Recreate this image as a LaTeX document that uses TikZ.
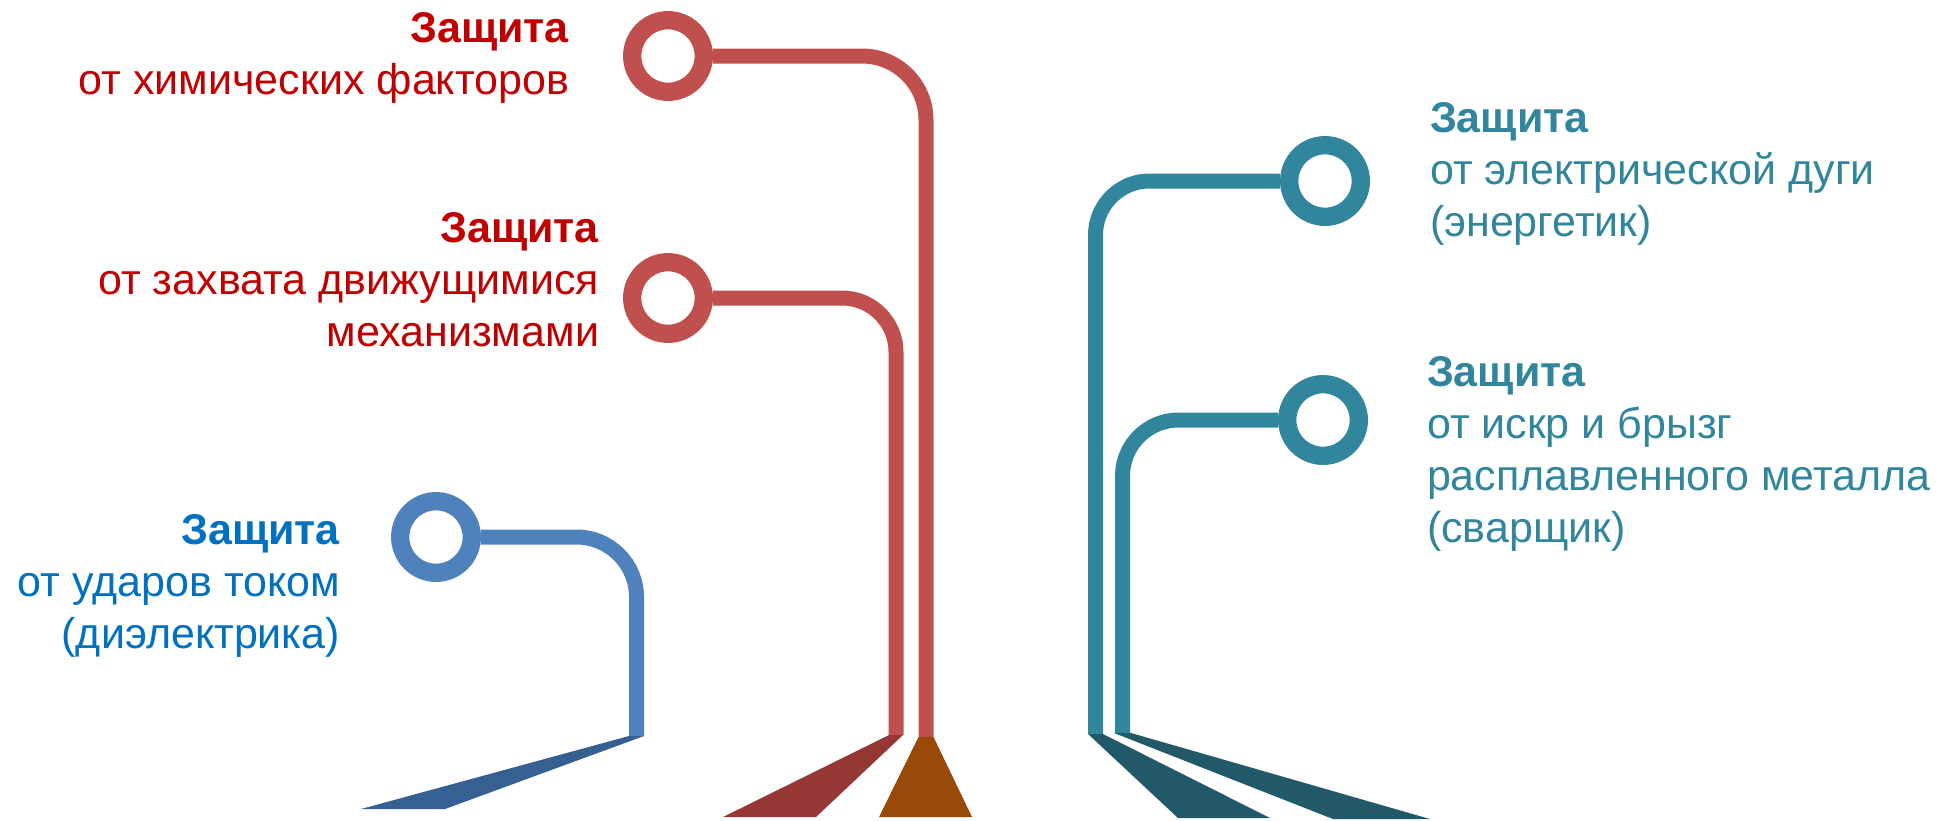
\documentclass[tikz,border=0pt]{standalone}
\usepackage{fontspec}
\setmainfont{Liberation Sans}
\usetikzlibrary{positioning}
\definecolor{wirered}{HTML}{C0504D}
\definecolor{textred}{HTML}{C00000}
\definecolor{wireblue}{HTML}{4F81BD}
\definecolor{textblue}{HTML}{0070C0}
\definecolor{wireteal}{HTML}{31859C}
\definecolor{footblue}{HTML}{376092}
\definecolor{footred}{HTML}{953735}
\definecolor{footbrown}{HTML}{984807}
\definecolor{footteal}{HTML}{215968}
\begin{document}
\begin{tikzpicture}[
  x=0.5pt, y=-0.5pt,
  ring/.style={circle, draw=#1, line width=9.15pt, minimum size=35.8pt, inner sep=0pt},
  wire/.style={draw=#1, line width=7.5pt},
  caption/.style={inner sep=0pt, outer sep=0pt, text=#1, font=\fontsize{21.5pt}{26pt}\selectfont},
  leftcap/.style={caption=#1, align=right, anchor=north east},
  rightcap/.style={caption=#1, align=left, anchor=north west}
]
  \useasboundingbox (0,0) rectangle (1941,820);

  \node[ring=wirered] (chem) at (668,56) {};
  \node[ring=wirered] (mech) at (668,298) {};
  \node[ring=wireblue] (shock) at (436,537) {};
  \node[ring=wireteal] (arc) at (1325,181) {};
  \node[ring=wireteal] (spark) at (1323,420) {};

  \coordinate (chem-foot) at (926,737);
  \coordinate (mech-foot) at (896,735);
  \coordinate (shock-foot) at (636.5,736);
  \coordinate (arc-foot) at (1095.5,734);
  \coordinate (spark-foot) at (1122.5,733);

  \draw[wire=wirered, rounded corners=32pt] (chem.east) -| (chem-foot);
  \draw[wire=wirered, rounded corners=27pt] (mech.east) -| (mech-foot);
  \draw[wire=wireblue, rounded corners=30pt] (shock.east) -| (shock-foot);
  \draw[wire=wireteal, rounded corners=27pt] (arc.west) -| (arc-foot);
  \draw[wire=wireteal, rounded corners=28pt] (spark.west) -| (spark-foot);

  \fill[footblue] (629,736) -- (644,736) -- (445,809) -- (361,809) -- cycle;
  \fill[footred] (889,735) -- (903,735) -- (816,817) -- (723,817) -- cycle;
  \fill[footbrown] (918.5,737) -- (933.5,737) -- (972,817) -- (879,817) -- cycle;
  \fill[footteal] (1088,734) -- (1103,734) -- (1270,818) -- (1178,818) -- cycle;
  \fill[footteal] (1114,733) -- (1131,733) -- (1430,819) -- (1333,819) -- cycle;

  \node[leftcap=textred] (chem-text) at (569,12) {\textbf{Защита}\\от химических факторов};
  \node[leftcap=textred] (mech-text) at (599,212) {\textbf{Защита}\\от захвата движущимися\\механизмами};
  \node[leftcap=textblue] (shock-text) at (340,514) {\textbf{Защита}\\от ударов током\\(диэлектрика)};
  \node[rightcap=wireteal] (arc-text) at (1430,102) {\textbf{Защита}\\от электрической дуги\\(энергетик)};
  \node[rightcap=wireteal] (spark-text) at (1427,356) {\textbf{Защита}\\от искр и брызг\\расплавленного металла\\(сварщик)};
\end{tikzpicture}
\end{document}
